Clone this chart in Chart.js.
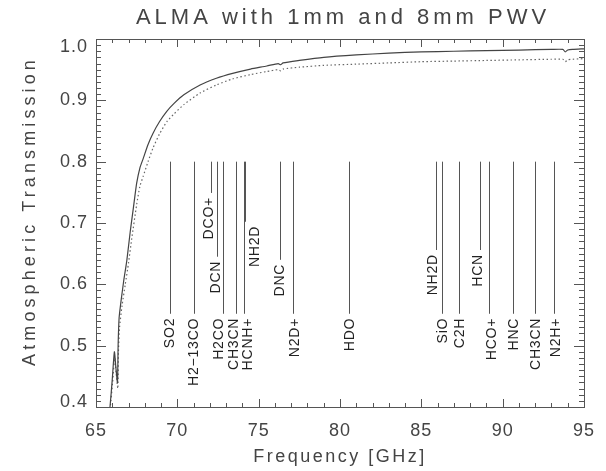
<!DOCTYPE html>
<html lang="en">
<head>
    <meta charset="UTF-8">
    <title>ALMA with 1mm and 8mm PWV</title>
    <style>
        html, body {
            margin: 0;
            padding: 0;
            background-color: #fff;
        }

        #chart {
            display: block;
        }
    </style>
</head>
<body>
    <canvas id="chart" width="606" height="471"></canvas>

    <script src="https://cdn.jsdelivr.net/npm/chart.js"></script>

    <script>
        // Transmission for 1 mm PWV (solid curve)
        const freq1mm = [65.80, 65.86, 66.00, 66.13, 66.22, 66.32, 66.36, 66.42, 66.55, 66.70, 66.90, 67.10, 67.30, 67.50, 67.70,
            67.90, 68.20, 68.50, 68.90, 69.35, 69.80, 70.40, 71.40, 72.40, 73.40, 74.50, 75.50, 76.20, 76.35, 76.50,
            77.50, 79.00, 81.00, 83.00, 85.00, 87.00, 89.00, 91.00, 93.00, 93.70, 93.85, 94.00, 94.30, 95.00];
        const trans1mm = [0.390, 0.400, 0.445, 0.490, 0.465, 0.440, 0.500, 0.545, 0.575, 0.605, 0.640, 0.685, 0.725, 0.765, 0.790,
            0.805, 0.828, 0.846, 0.865, 0.882, 0.895, 0.909, 0.925, 0.936, 0.944, 0.951, 0.956, 0.960, 0.958, 0.961,
            0.965, 0.970, 0.974, 0.977, 0.979, 0.980, 0.981, 0.982, 0.983, 0.983, 0.979, 0.982, 0.983, 0.984];

        // Transmission for 8 mm PWV (dotted curve)
        const freq8mm = [65.82, 65.88, 66.02, 66.15, 66.24, 66.34, 66.38, 66.45, 66.60, 66.80, 67.00, 67.20, 67.50, 67.70,
            67.90, 68.20, 68.50, 68.90, 69.35, 69.80, 70.40, 71.40, 72.40, 73.40, 74.50, 75.50, 76.20, 76.35, 76.50,
            77.50, 79.00, 81.00, 83.00, 85.00, 87.00, 89.00, 91.00, 93.00, 93.70, 93.85, 94.00, 94.30, 95.00];
        const trans8mm = [0.390, 0.400, 0.440, 0.480, 0.455, 0.430, 0.490, 0.530, 0.565, 0.600, 0.635, 0.675, 0.730, 0.760,
            0.776, 0.800, 0.822, 0.845, 0.865, 0.878, 0.893, 0.912, 0.925, 0.935, 0.942, 0.947, 0.950, 0.948, 0.951,
            0.954, 0.957, 0.959, 0.961, 0.963, 0.964, 0.965, 0.966, 0.967, 0.967, 0.963, 0.966, 0.967, 0.968];

        // Molecular transitions: name, rest frequency [GHz], transmission where the marker stops
        const lineNames = ['SO2', 'H2\u221213CO', 'DCO+', 'DCN', 'H2CO', 'CH3CN', 'HCNH+', 'NH2D', 'DNC', 'N2D+',
            'HDO', 'NH2D', 'SiO', 'C2H', 'HCN', 'HCO+', 'HNC', 'CH3CN', 'N2H+'];
        const lineFreqs = [69.576, 71.024, 72.039, 72.415, 72.838, 73.590, 74.111, 74.155, 76.306, 77.109,
            80.578, 85.926, 86.243, 87.317, 88.632, 89.189, 90.664, 91.987, 93.173];
        const lineEnds = [0.552, 0.552, 0.749, 0.645, 0.552, 0.552, 0.552, 0.702, 0.640, 0.552,
            0.552, 0.656, 0.552, 0.552, 0.656, 0.552, 0.552, 0.552, 0.552];
        const lineTop = 0.8;

        // Axis labels
        const xTicks = [65, 70, 75, 80, 85, 90, 95];
        const yTicks = [0.4, 0.5, 0.6, 0.7, 0.8, 0.9, 1.0];

        const inkColor = '#444';
        const fontFamily = '"Liberation Sans", Arial, sans-serif';
        // sideways shift (px) of each line label so crowded ones don't collide
        const labelNudge = [-2, -2, -4, -3, -6, -4, 2, 8, -2, 0, -1, -5, -1, -1, -4, 1, -1, -1, 0];

        function toPoints(xs, ys) {
            return xs.map((v, i) => ({ x: v, y: ys[i] }));
        }

        // IDL style box: ticks pointing inward on all four sides
        const framePlugin = {
            id: 'frame',
            afterDraw(chart) {
                const ctx = chart.ctx;
                const a = chart.chartArea;
                const x = chart.scales.x;
                const y = chart.scales.y;

                ctx.save();
                ctx.strokeStyle = '#555';
                ctx.lineWidth = 1;
                ctx.strokeRect(a.left + 0.5, a.top + 0.5, a.right - a.left, a.bottom - a.top);

                ctx.beginPath();
                for (let f = x.min; f <= x.max; f++) {
                    const len = xTicks.includes(f) ? 8 : 4;
                    const px = Math.round(x.getPixelForValue(f)) + 0.5;
                    ctx.moveTo(px, a.bottom);
                    ctx.lineTo(px, a.bottom - len);
                    ctx.moveTo(px, a.top);
                    ctx.lineTo(px, a.top + len);
                }
                for (let i = 0; i <= 60; i++) {
                    const len = i % 10 === 0 ? 10 : 5;
                    const py = Math.round(y.getPixelForValue(0.4 + i * 0.01)) + 0.5;
                    ctx.moveTo(a.left, py);
                    ctx.lineTo(a.left + len, py);
                    ctx.moveTo(a.right, py);
                    ctx.lineTo(a.right - len, py);
                }
                ctx.stroke();

                ctx.fillStyle = inkColor;
                ctx.font = '18px ' + fontFamily;
                ctx.letterSpacing = '1px';
                ctx.textAlign = 'center';
                ctx.textBaseline = 'middle';
                xTicks.forEach(v => {
                    ctx.fillText(String(v), x.getPixelForValue(v), a.bottom + 24);
                });

                ctx.textAlign = 'right';
                yTicks.forEach(v => {
                    let py = y.getPixelForValue(v);
                    py = Math.min(Math.max(py, a.top + 8), a.bottom - 5);
                    ctx.fillText(v.toFixed(1), a.left - 8, py);
                });

                // axis titles
                ctx.textAlign = 'center';
                ctx.letterSpacing = '2.5px';
                ctx.fillText('Frequency [GHz]', (a.left + a.right) / 2, 457);

                ctx.save();
                ctx.translate(30, 211);
                ctx.rotate(-Math.PI / 2);
                ctx.letterSpacing = '4.1px';
                ctx.fillText('Atmospheric Transmission', 0, 0);
                ctx.restore();

                // plot title
                ctx.font = '22px ' + fontFamily;
                ctx.letterSpacing = '4px';
                ctx.fillText('ALMA with 1mm and 8mm PWV', 343, 18);
                ctx.restore();
            }
        };

        // vertical markers for the molecular lines, labelled below
        const linesPlugin = {
            id: 'molLines',
            afterDatasetsDraw(chart) {
                const ctx = chart.ctx;
                const x = chart.scales.x;
                const y = chart.scales.y;
                const top = y.getPixelForValue(lineTop);

                ctx.save();
                ctx.strokeStyle = '#555';
                ctx.lineWidth = 1;
                ctx.fillStyle = '#222';
                ctx.font = '14px ' + fontFamily;
                ctx.letterSpacing = '0.8px';
                ctx.textAlign = 'right';
                ctx.textBaseline = 'alphabetic';

                lineFreqs.forEach((f, i) => {
                    const px = Math.round(x.getPixelForValue(f)) + 0.5;
                    const bottom = y.getPixelForValue(lineEnds[i]);
                    ctx.beginPath();
                    ctx.moveTo(px, top);
                    ctx.lineTo(px, bottom);
                    ctx.stroke();

                    // baseline on the right, caps (about 10px) extend left
                    ctx.save();
                    ctx.translate(px + labelNudge[i] + 5, bottom + 4);
                    ctx.rotate(-Math.PI / 2);
                    ctx.fillText(lineNames[i], 0, 0);
                    ctx.restore();
                });
                ctx.restore();
            }
        };

        const ctx = document.getElementById('chart').getContext('2d');
        new Chart(ctx, {
            type: 'line',
            data: {
                datasets: [
                    {
                        label: '1mm PWV',
                        data: toPoints(freq1mm, trans1mm),
                        borderColor: '#444',
                        borderWidth: 1.2,
                        pointRadius: 0,
                        tension: 0.2
                    },
                    {
                        label: '8mm PWV',
                        data: toPoints(freq8mm, trans8mm),
                        borderColor: '#666',
                        borderWidth: 1.2,
                        borderDash: [1.5, 2.5],
                        pointRadius: 0,
                        tension: 0.2
                    }
                ]
            },
            options: {
                responsive: false,
                animation: false,
                layout: {
                    padding: { left: 96, top: 39, right: 22, bottom: 64 }
                },
                scales: {
                    x: { type: 'linear', min: 65, max: 95, display: false },
                    y: { type: 'linear', min: 0.4, max: 1.0, display: false }
                },
                plugins: {
                    legend: { display: false },
                    tooltip: { enabled: false }
                }
            },
            plugins: [linesPlugin, framePlugin]
        });
    </script>
</body>
</html>
